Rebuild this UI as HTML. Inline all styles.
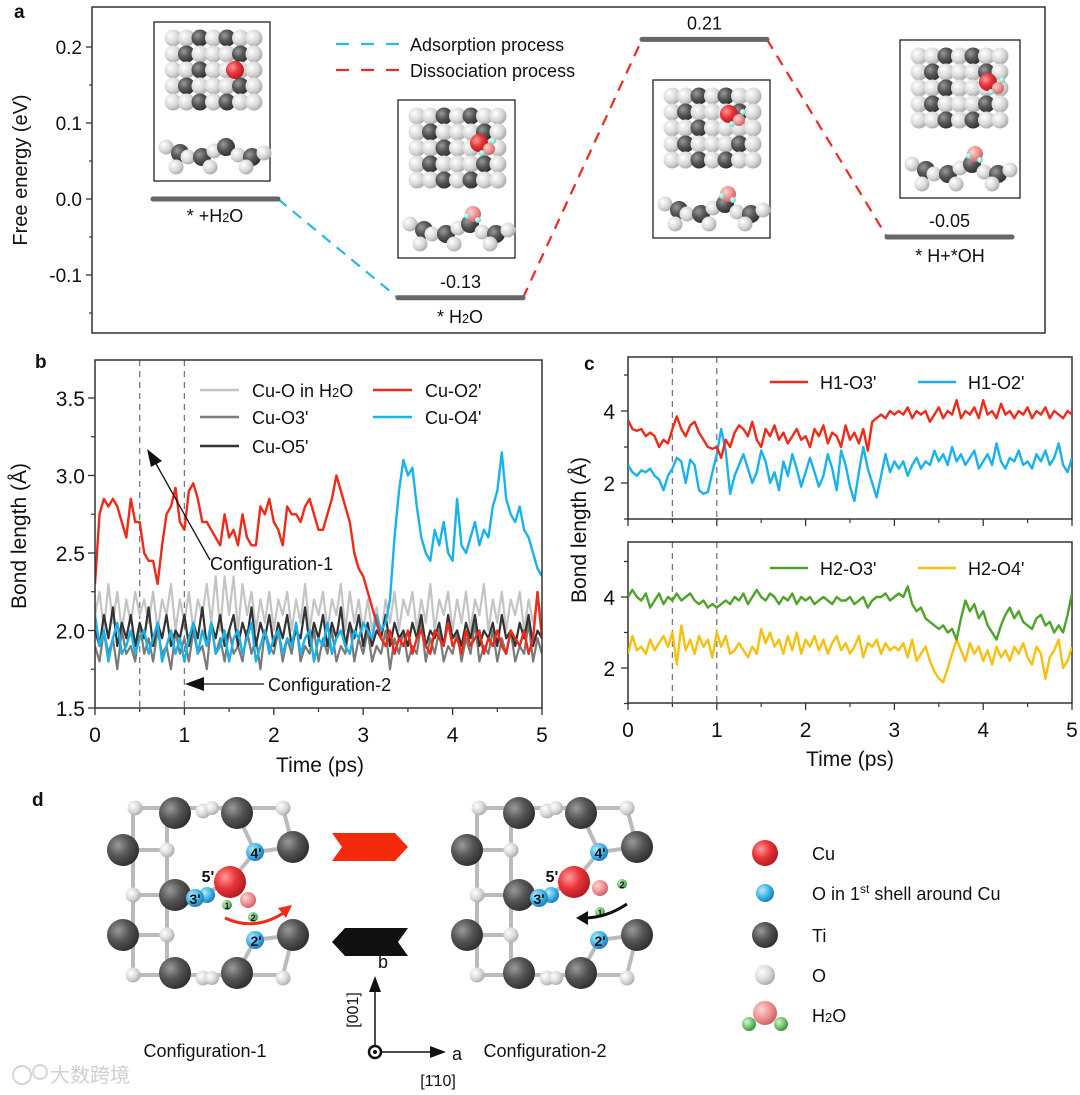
<!DOCTYPE html>
<html><head><meta charset="utf-8"><style>
html,body{margin:0;padding:0;background:#fff;}
svg{display:block;font-family:"Liberation Sans","Noto Sans CJK SC",sans-serif;}
</style></head><body>
<svg id="fig" width="1080" height="1095" viewBox="0 0 1080 1095" xmlns="http://www.w3.org/2000/svg">
<defs>
<radialGradient id="gD" cx="35%" cy="35%" r="70%"><stop offset="0" stop-color="#9a9a9a"/><stop offset="0.5" stop-color="#555"/><stop offset="1" stop-color="#2e2e2e"/></radialGradient>
<radialGradient id="gL" cx="35%" cy="35%" r="70%"><stop offset="0" stop-color="#fff"/><stop offset="0.6" stop-color="#d8d8d8"/><stop offset="1" stop-color="#a8a8a8"/></radialGradient>
<radialGradient id="gR" cx="35%" cy="35%" r="70%"><stop offset="0" stop-color="#ff9a9a"/><stop offset="0.5" stop-color="#e8353a"/><stop offset="1" stop-color="#b01a1e"/></radialGradient>
<radialGradient id="gP" cx="35%" cy="35%" r="70%"><stop offset="0" stop-color="#ffd6d6"/><stop offset="0.6" stop-color="#f08a8a"/><stop offset="1" stop-color="#c86060"/></radialGradient>
<radialGradient id="gB" cx="35%" cy="35%" r="70%"><stop offset="0" stop-color="#b8ecff"/><stop offset="0.6" stop-color="#3ab0e6"/><stop offset="1" stop-color="#1a78b0"/></radialGradient>
<radialGradient id="gG" cx="35%" cy="35%" r="70%"><stop offset="0" stop-color="#d6f5d0"/><stop offset="0.6" stop-color="#6cc070"/><stop offset="1" stop-color="#3c8a40"/></radialGradient>
<radialGradient id="gC" cx="35%" cy="35%" r="70%"><stop offset="0" stop-color="#e6fffa"/><stop offset="1" stop-color="#60d0c0"/></radialGradient>
<clipPath id="clipB"><rect x="95" y="360" width="447" height="348"/></clipPath>
<clipPath id="clipCT"><rect x="628" y="357" width="444" height="162"/></clipPath>
<clipPath id="clipCB"><rect x="628" y="542" width="444" height="161"/></clipPath>
</defs>
<g id="root"></g>
</svg>
<script>
// ---------- Panel a data ----------
const aStates = ["* +H2O", "* H2O", "TS", "* H+*OH"];
const aEnergies = [0, -0.13, 0.21, -0.05];
const aValueLabels = ["", "-0.13", "0.21", "-0.05"];
const aTicks = [0.2, 0.1, 0.0, -0.1];
const aTickLabels = ["0.2", "0.1", "0.0", "-0.1"];

// ---------- Panel b data (t = 0..5 ps, step 0.05) ----------
const bTimeStep = 0.05;
const bCuOH2O = [2.1,2.25,2.0,2.3,2.05,2.25,2.0,2.2,2.05,2.25,2.1, 2.2,2.05,2.25,2.0,2.2,2.1,2.3,2.0,2.2,2.05, 2.25,2.0,2.2,2.1,2.3,2.05,2.35,2.0,2.35,2.1, 2.35,2.0,2.3,2.1,2.25,2.0,2.2,2.05,2.25,2.0, 2.2,2.1,2.25,2.0,2.2,2.05,2.3,2.0,2.2,2.1, 2.25,2.0,2.2,2.1,2.3,2.0,2.25,2.05,2.2,2.0, 2.2,2.0,2.15,1.95,2.2,2.05,2.25,2.0,2.2,2.1, 2.25,2.0,2.2,2.05,2.3,2.0,2.2,2.1,2.25,2.0, 2.2,2.05,2.25,2.0,2.2,2.1,2.3,2.0,2.2,2.05, 2.25,2.0,2.2,2.1,2.25,2.0,2.2,2.05,2.2,2.1];
const bCuO3 = [1.9,1.8,2.0,1.85,1.95,1.75,2.0,1.85,1.9,1.8,2.05, 1.85,1.95,1.8,2.0,1.85,1.9,1.75,2.0,1.85,1.95, 1.8,2.0,1.85,1.9,1.75,2.05,1.85,1.95,1.8,2.0, 1.85,1.9,1.8,2.0,1.85,1.95,1.75,2.0,1.9,1.85, 2.0,1.8,1.95,1.85,2.05,1.8,1.9,1.85,2.0,1.8, 1.95,1.85,2.0,1.8,1.9,1.85,2.05,1.8,1.95,1.85, 2.0,1.8,1.9,1.85,2.0,1.75,1.95,1.85,2.0,1.8, 1.9,1.85,2.05,1.8,1.95,1.85,2.0,1.8,1.9,1.85, 2.0,1.8,1.95,1.85,2.05,1.8,1.9,1.85,2.0,1.8, 1.95,1.85,2.0,1.8,1.9,1.85,2.05,1.8,1.95,1.85];
const bCuO5 = [2.0,1.9,2.1,1.95,2.15,1.9,2.05,1.95,2.1,1.9,2.05, 1.95,2.15,1.9,2.05,1.95,2.1,1.9,2.0,1.95,2.1, 1.9,2.05,1.95,2.15,1.9,2.05,1.95,2.1,1.9,2.0, 2.1,1.9,2.05,1.95,2.15,1.9,2.05,1.95,2.1,1.9, 2.05,1.95,2.1,1.9,2.0,1.95,2.15,1.9,2.05,1.95, 2.1,1.9,2.05,1.95,2.15,1.9,2.05,1.95,2.1,1.9, 2.05,1.9,2.0,1.95,2.1,1.9,2.05,1.95,2.0,1.9, 2.05,1.95,2.1,1.9,2.0,1.95,2.05,1.9,2.1,1.95, 2.0,1.9,2.05,1.95,2.1,1.9,2.0,1.95,2.05,1.9, 2.1,1.95,2.0,1.9,2.05,1.95,2.1,1.9,2.0,1.95];
const bCuO4 = [2.1,1.9,2.0,1.8,1.95,2.05,1.85,1.9,2.0,1.85,1.95, 2.0,1.85,1.95,2.05,1.8,1.9,2.0,1.85,1.95,1.8, 1.95,2.05,1.85,2.0,1.9,2.05,1.85,1.9,2.0,1.8, 1.95,2.0,1.85,1.95,2.05,1.8,1.9,2.0,1.85,1.95, 2.0,1.85,1.95,1.9,2.05,1.85,1.95,2.0,1.8,1.95, 1.9,2.05,1.85,1.95,2.0,1.9,1.85,2.0,1.95,2.05, 2.0,1.95,2.1,2.0,2.05,2.2,2.6,2.9,3.1,3.0, 3.05,2.8,2.6,2.5,2.45,2.65,2.55,2.7,2.5,2.45, 2.85,2.55,2.5,2.6,2.7,2.55,2.65,2.6,2.8,2.9, 3.15,2.85,2.75,2.7,2.8,2.65,2.6,2.5,2.4,2.35];
const bCuO2 = [2.3,2.75,2.85,2.8,2.85,2.8,2.7,2.6,2.85,2.7,2.7, 2.5,2.45,2.45,2.3,2.55,2.75,2.8,2.92,2.7,2.65, 2.9,2.95,2.85,2.7,2.7,2.65,2.6,2.55,2.75,2.6, 2.65,2.55,2.75,2.6,2.55,2.55,2.8,2.75,2.85,2.7, 2.65,2.55,2.8,2.75,2.75,2.7,2.8,2.85,2.75,2.65, 2.65,2.75,2.85,3.0,2.9,2.8,2.7,2.5,2.4,2.35, 2.25,2.15,2.05,1.95,1.9,2.0,1.85,1.95,1.9,2.0, 1.85,1.95,2.0,1.9,1.85,2.0,1.95,1.9,2.05,1.9, 1.95,1.85,2.0,1.9,1.95,2.0,1.85,1.95,1.9,2.0, 1.9,1.85,2.0,1.95,1.9,2.0,1.85,1.95,2.25,1.95];
const bYTicks = [1.5, 2.0, 2.5, 3.0, 3.5];
const bYTickLabels = ["1.5", "2.0", "2.5", "3.0", "3.5"];
const xTicks = [0, 1, 2, 3, 4, 5];
const xTickLabels = ["0", "1", "2", "3", "4", "5"];

// ---------- Panel c data ----------
const cH1O3 = [3.75,3.5,3.45,3.5,3.3,3.4,3.3,3.0,3.2,3.1,3.5, 3.85,3.5,3.3,3.6,3.7,3.4,3.2,3.0,2.95,3.0, 2.7,3.2,3.0,3.4,3.6,3.5,3.3,3.7,3.2,3.0, 3.5,3.3,3.6,3.2,3.4,3.1,3.3,3.5,3.2,3.3, 3.0,3.5,3.3,3.6,3.1,3.4,3.3,3.0,3.6,3.2, 3.4,3.1,3.5,2.9,3.7,3.8,3.9,3.8,4.0,3.9, 4.0,3.9,4.1,3.8,4.0,3.9,4.0,3.7,3.9,4.1, 3.8,4.0,3.9,4.3,3.8,4.0,3.9,4.1,3.8,4.3, 3.9,4.0,3.8,4.2,3.9,4.0,3.8,4.0,3.9,4.1, 3.8,4.0,3.9,4.1,3.8,4.0,3.9,3.8,4.0,3.9];
const cH1O2 = [2.5,2.3,2.2,2.35,2.3,2.4,2.2,2.1,1.8,2.2,2.4, 2.7,2.6,2.0,2.65,2.5,1.8,1.7,1.75,2.3,2.8, 3.5,2.9,1.7,2.2,2.5,2.8,2.4,2.0,2.3,2.9, 2.6,2.0,2.3,1.8,2.6,2.2,2.8,2.4,1.9,2.3, 2.7,2.3,1.9,2.2,2.8,2.4,1.8,2.9,2.5,1.9, 1.5,2.3,3.0,2.4,2.0,1.6,2.2,2.8,2.3,2.6, 2.4,2.6,2.2,2.5,2.7,2.4,2.6,2.5,2.9,2.6, 2.8,2.5,3.0,2.6,2.8,2.5,2.7,2.9,2.4,2.6, 2.8,2.5,3.1,2.6,2.4,2.7,2.6,2.9,2.5,2.6, 2.4,2.8,2.6,2.9,2.5,2.7,3.1,2.5,2.3,2.7];
const cH2O3 = [4.0,4.2,4.0,3.9,4.1,3.7,3.9,4.1,3.8,4.0,3.9, 4.1,3.9,4.0,4.1,3.9,3.8,3.9,3.7,3.8,3.7, 3.8,3.9,3.8,4.0,3.9,4.1,3.8,4.0,4.2,4.0, 3.9,4.1,4.0,3.8,4.0,3.9,4.1,3.8,4.0,3.9, 4.0,3.8,3.9,4.0,3.9,3.8,4.0,3.9,3.9,4.0, 3.8,3.9,4.0,3.7,3.9,4.0,4.0,4.1,3.9,4.0, 4.1,4.0,4.3,3.8,3.6,3.7,3.4,3.3,3.2,3.1, 3.2,3.0,3.1,2.8,3.4,3.9,3.6,3.8,3.4,3.6, 3.2,3.0,2.8,3.2,3.5,3.7,3.4,3.6,3.3,3.2, 3.1,3.4,3.5,3.2,3.3,3.0,3.2,3.0,3.5,4.1];
const cH2O4 = [2.4,2.9,2.5,2.6,2.4,2.8,2.5,2.7,2.9,2.6,3.0, 2.1,3.2,2.5,2.8,2.4,2.9,2.6,2.8,2.3,3.0, 2.6,2.9,2.4,2.5,2.7,2.5,2.3,2.6,2.4,3.1, 2.7,3.0,2.6,2.8,2.4,2.9,2.5,3.0,2.4,2.8, 2.6,2.9,2.5,2.8,2.4,2.7,2.9,2.5,2.7,2.4, 2.6,2.9,2.3,2.7,2.6,2.8,2.4,2.7,2.5,2.6, 2.5,2.7,2.3,2.8,2.2,2.4,2.6,2.2,1.9,1.7, 1.6,2.0,2.4,2.8,2.5,2.2,2.7,2.4,2.6,2.2, 2.5,2.1,2.6,2.3,2.5,2.2,2.6,2.4,2.7,2.3, 2.1,2.6,2.4,1.7,2.3,2.5,2.8,2.0,2.2,2.6];
const cYTicks = [2, 4];
const cYTickLabels = ["2", "4"];

const NS = "http://www.w3.org/2000/svg";
const root = document.getElementById("root");
function el(tag, attrs, parent) {
  const e = document.createElementNS(NS, tag);
  for (const k in attrs) e.setAttribute(k, attrs[k]);
  (parent || root).appendChild(e);
  return e;
}
function txt(str, x, y, size, parent, anchor, extra) {
  const t = el("text", Object.assign({x: x, y: y, "font-size": size, "text-anchor": anchor || "middle", fill: "#111"}, extra || {}), parent);
  t.textContent = str;
  return t;
}
function group(name) {
  const g = el("g", {});
  
  
  return g;
}
function ball(g, x, y, r, grad) { return el("circle", {cx: x, cy: y, r: r, fill: "url(#" + grad + ")"}, g); }

// ================= PANEL A =================
const ya = v => 199 - v * 760;
const gA = group("panel-a");
txt("a", 14, 18, 19, gA, "start", {"font-weight": "bold"});
el("rect", {x: 92, y: 7, width: 953, height: 326, fill: "none", stroke: "#333", "stroke-width": 1.5}, gA);
aTicks.forEach((v, i) => {
  el("line", {x1: 86, x2: 92, y1: ya(v), y2: ya(v), stroke: "#333", "stroke-width": 1.3}, gA);
  const t = txt(aTickLabels[i], 82, ya(v) + 7, 19, gA, "end");
  
  
});
[0.15, 0.05, -0.05, -0.15].forEach(v => el("line", {x1: 89, x2: 92, y1: ya(v), y2: ya(v), stroke: "#333", "stroke-width": 1.2}, gA));
const yta = txt("Free energy (eV)", 0, 0, 20, gA, "middle", {transform: "translate(27,170) rotate(-90)"});

const levelX = [[153, 278], [398, 523], [642, 767], [887, 1012]];
const connColors = ["#29b6e8", "#ee2a24", "#ee2a24"];
for (let i = 0; i < 3; i++) {
  const c = el("line", {x1: levelX[i][1], y1: ya(aEnergies[i]), x2: levelX[i + 1][0], y2: ya(aEnergies[i + 1]), stroke: connColors[i], "stroke-width": 2.2, "stroke-dasharray": "11,8"}, gA);
  
}
aEnergies.forEach((v, i) => {
  const l = el("line", {x1: levelX[i][0], x2: levelX[i][1], y1: ya(v), y2: ya(v), stroke: "#666", "stroke-width": 5, "stroke-linecap": "round"}, gA);
  
  const cx = (levelX[i][0] + levelX[i][1]) / 2;
  if (aValueLabels[i]) txt(aValueLabels[i], cx, ya(v) - 10, 18, gA);
});
function sub(t, x, y, size, parts) {
  const te = el("text", {x: x, y: y, "font-size": size, "text-anchor": "middle", fill: "#111"}, gA);
  parts.forEach(p => { const s = el("tspan", p[1] ? {"font-size": size * 0.7} : {}, te); s.textContent = p[0]; });
  return te;
}
sub("", 215, 222, 18, [["* +H"], ["2", 1], ["O"]]);
sub("", 460, 323, 18, [["* H"], ["2", 1], ["O"]]);
txt("* H+*OH", 950, 262, 18, gA);
el("line", {x1: 336, x2: 400, y1: 44, y2: 44, stroke: "#29b6e8", "stroke-width": 2.2, "stroke-dasharray": "13,12"}, gA);
el("line", {x1: 336, x2: 400, y1: 70, y2: 70, stroke: "#ee2a24", "stroke-width": 2.2, "stroke-dasharray": "13,12"}, gA);
txt("Adsorption process", 410, 51, 18, gA, "start");
txt("Dissociation process", 410, 77, 18, gA, "start");
const insetBoxes = [[154, 22, 116, 159], [398, 100, 117, 158], [653, 80, 117, 158], [900, 40, 120, 158]];
const rowPats = ["LLDLDLL", "LDLLLDL", "LLDLLLL", "LDLLLDL", "LLDLDLL"];
insetBoxes.forEach((b, k) => {
  const g = el("g", {}, gA);
  
  el("rect", {x: b[0], y: b[1], width: b[2], height: b[3], fill: "#fff", stroke: "#222", "stroke-width": 1.3}, g);
  const x0 = b[0] + 16, y0 = b[1] + 16;
  for (let r = 0; r < 5; r++) for (let c = 0; c < 7; c++) {
    const ch = rowPats[r][c];
    ball(g, x0 + c * 13.5 + 3, y0 + r * 16, 8.5, ch === "D" ? "gD" : "gL");
  }
  const ax = [x0 + 65, x0 + 65, x0 + 60, x0 + 72][k], ay = [y0 + 32, y0 + 27, y0 + 18, y0 + 26][k];
  ball(g, ax, ay, 9, "gR");
  if (k > 0) { ball(g, ax + 10, ay + 6, 6, "gP"); ball(g, ax + 3, ay + 10, 3, "gC"); ball(g, ax + 14, ay - 2, 3, "gC"); }
  const sy = b[1] + b[3] - 30;
  const side = [[0, -4, "L"], [14, 2, "D"], [22, 6, "L"], [36, 6, "D"], [48, 0, "L"], [60, -4, "D"], [72, 4, "L"], [86, 6, "D"], [98, 2, "L"], [10, 16, "L"], [44, 16, "L"], [80, 16, "L"]];
  side.forEach(s => ball(g, b[0] + 12 + s[0], sy + s[1], s[2] === "D" ? 9 : 7.5, s[2] === "D" ? "gD" : "gL"));
  if (k > 0) { ball(g, b[0] + 75, sy - 14, 8, "gP"); ball(g, b[0] + 69, sy - 12, 3, "gC"); ball(g, b[0] + 80, sy - 8, 3, "gC"); }
});

function series(g, data, xs, ys, color, w, clip, name) {
  let d = "";
  data.forEach((v, i) => { d += (i ? "L" : "M") + xs(i * bTimeStep).toFixed(1) + "," + ys(v).toFixed(1); });
  const p = el("path", {d: d, fill: "none", stroke: color, "stroke-width": w, "stroke-linejoin": "round", "clip-path": "url(#" + clip + ")"}, g);
  
  
  return p;
}

// ================= PANEL B =================
const xb = t => 95 + t * 89.4;
const yb = v => 708 - (v - 1.5) * 155;
const gB = group("panel-b");
txt("b", 35, 368, 19, gB, "start", {"font-weight": "bold"});
[0.5, 1].forEach(t => el("line", {x1: xb(t), x2: xb(t), y1: 360, y2: 708, stroke: "#777", "stroke-width": 1.3, "stroke-dasharray": "6,5"}, gB));
series(gB, bCuOH2O, xb, yb, "#c4c4c4", 2.2, "clipB", "line-cu-o-in-h2o");
series(gB, bCuO3, xb, yb, "#7a7a7a", 2.2, "clipB", "line-cu-o3");
series(gB, bCuO5, xb, yb, "#333", 2.2, "clipB", "line-cu-o5");
series(gB, bCuO4, xb, yb, "#1ab2ea", 2.4, "clipB", "line-cu-o4");
series(gB, bCuO2, xb, yb, "#ee2a18", 2.4, "clipB", "line-cu-o2");
el("rect", {x: 95, y: 360, width: 447, height: 348, fill: "none", stroke: "#333", "stroke-width": 1.5}, gB);
bYTicks.forEach((v, i) => {
  el("line", {x1: 88, x2: 95, y1: yb(v), y2: yb(v), stroke: "#333", "stroke-width": 1.3}, gB);
  if (i < bYTicks.length - 1) el("line", {x1: 91, x2: 95, y1: yb(v + 0.25), y2: yb(v + 0.25), stroke: "#333", "stroke-width": 1.2}, gB);
  txt(bYTickLabels[i], 85, yb(v) + 8, 21, gB, "end");
});
xTicks.forEach((t, i) => {
  el("line", {x1: xb(t), x2: xb(t), y1: 708, y2: 715, stroke: "#333", "stroke-width": 1.3}, gB);
  if (i < 5) el("line", {x1: xb(t + 0.5), x2: xb(t + 0.5), y1: 708, y2: 712, stroke: "#333", "stroke-width": 1.2}, gB);
  txt(xTickLabels[i], xb(t), 742, 21, gB);
});
txt("Time (ps)", 320, 772, 21, gB);
txt("Bond length (Å)", 0, 0, 21, gB, "middle", {transform: "translate(26,536) rotate(-90)"});
const bLeg = [["Cu-O in H", "#c4c4c4", 200, 390, true], ["Cu-O3'", "#7a7a7a", 200, 417], ["Cu-O5'", "#333", 200, 446], ["Cu-O2'", "#ee2a18", 373, 390], ["Cu-O4'", "#1ab2ea", 373, 417]];
bLeg.forEach(l => {
  el("line", {x1: l[2], x2: l[2] + 39, y1: l[3], y2: l[3], stroke: l[1], "stroke-width": 2.4}, gB);
  const t = el("text", {x: l[2] + 52, y: l[3] + 7, "font-size": 18, fill: "#111"}, gB);
  
  const s = el("tspan", {}, t); s.textContent = l[0];
  if (l[4]) { const a = el("tspan", {"font-size": 13}, t); a.textContent = "2"; const b2 = el("tspan", {}, t); b2.textContent = "O"; }
});
el("line", {x1: 210, y1: 560, x2: 155, y2: 462, stroke: "#111", "stroke-width": 1.3}, gB);
el("polygon", {points: "147,449 162,461 151,467", fill: "#111"}, gB);
txt("Configuration-1", 210, 570, 18, gB, "start");
el("line", {x1: 264, y1: 684, x2: 200, y2: 684, stroke: "#111", "stroke-width": 1.3}, gB);
el("polygon", {points: "185,684 204,677 204,691", fill: "#111"}, gB);
txt("Configuration-2", 268, 691, 18, gB, "start");

// ================= PANEL C =================
const xc = t => 628 + t * 88.8;
const yct = v => 411 - (v - 4) * 36;
const ycb = v => 597 - (v - 4) * 35.5;
const gC = group("panel-c");
txt("c", 584, 370, 19, gC, "start", {"font-weight": "bold"});
function cFrame(top, bot, ys, clip) {
  [0.5, 1].forEach(t => el("line", {x1: xc(t), x2: xc(t), y1: top, y2: bot, stroke: "#777", "stroke-width": 1.3, "stroke-dasharray": "6,5"}, gC));
  el("rect", {x: 628, y: top, width: 444, height: bot - top, fill: "none", stroke: "#333", "stroke-width": 1.5}, gC);
  [1, 2, 3, 4, 5].forEach(v => el("line", {x1: cYTicks.includes(v) ? 621 : 624, x2: 628, y1: ys(v), y2: ys(v), stroke: "#333", "stroke-width": 1.3}, gC));
  cYTicks.forEach((v, i) => txt(cYTickLabels[i], 615, ys(v) + 8, 21, gC, "end"));
  xTicks.forEach((t, i) => {
    el("line", {x1: xc(t), x2: xc(t), y1: bot, y2: bot + 7, stroke: "#333", "stroke-width": 1.3}, gC);
    if (i < 5) el("line", {x1: xc(t + 0.5), x2: xc(t + 0.5), y1: bot, y2: bot + 4, stroke: "#333", "stroke-width": 1.2}, gC);
  });
}
cFrame(357, 519, yct, "clipCT");
series(gC, cH1O2, xc, yct, "#1ab2ea", 2.4, "clipCT", "line-h1-o2");
series(gC, cH1O3, xc, yct, "#ee2a18", 2.4, "clipCT", "line-h1-o3");
cFrame(542, 703, ycb, "clipCB");
series(gC, cH2O4, xc, ycb, "#f5c010", 2.4, "clipCB", "line-h2-o4");
series(gC, cH2O3, xc, ycb, "#4ea42a", 2.4, "clipCB", "line-h2-o3");
xTicks.forEach((t, i) => txt(xTickLabels[i], xc(t), 737, 21, gC));
txt("Time (ps)", 850, 766, 21, gC);
txt("Bond length (Å)", 0, 0, 21, gC, "middle", {transform: "translate(586,530) rotate(-90)"});
[["H1-O3'", "#ee2a18", 770, 382], ["H1-O2'", "#1ab2ea", 918, 382], ["H2-O3'", "#4ea42a", 770, 568], ["H2-O4'", "#f5c010", 918, 568]].forEach(l => {
  el("line", {x1: l[2], x2: l[2] + 38, y1: l[3], y2: l[3], stroke: l[1], "stroke-width": 2.4}, gC);
  txt(l[0], l[2] + 50, l[3] + 7, 18, gC, "start");
});

// ================= PANEL D =================
const gD = group("panel-d");
txt("d", 32, 806, 19, gD, "start", {"font-weight": "bold"});
function structure(ox, cfg) {
  const g = el("g", {transform: "translate(" + ox + ",0)"}, gD);
  
  const bonds = [[135,808,283,808],[133,808,133,973],[167,813,167,973],[123,850,167,850],[133,895,175,895],[123,935,167,935],[135,975,283,975],[283,808,293,847],[283,975,293,935],[255,852,293,847],[255,940,293,935],[255,852,237,813],[255,940,237,973],[195,898,230,882],[255,852,230,882]];
  bonds.forEach(b => el("line", {x1: b[0], y1: b[1], x2: b[2], y2: b[3], stroke: "#bbb", "stroke-width": 4}, g));
  [[175,813],[237,813],[123,850],[293,847],[175,895],[123,935],[293,935],[175,973],[237,973]].forEach(p => ball(g, p[0], p[1], 16, "gD"));
  [[135,808],[203,811],[283,808],[167,850],[133,895],[167,935],[133,975],[203,978],[283,978]].forEach(p => ball(g, p[0], p[1], 7.5, "gL"));
  ball(g, 212, 808, 7, "gL"); ball(g, 212, 978, 7, "gL");
  const lab = (s, x, y, sz) => txt(s, x, y, sz, g, "middle", {"font-weight": "bold"});
  ball(g, 255, 852, 9, "gB"); lab("4'", 256, 858, 14);
  ball(g, 255, 940, 9, "gB"); lab("2'", 256, 946, 14);
  ball(g, 207, 895, 8, "gB");
  ball(g, 195, 898, 9, "gB"); lab("3'", 195, 904, 14);
  ball(g, 230, 882, 16, "gR");
  lab("5'", 208, 882, 16);
  if (cfg === 1) {
    ball(g, 248, 900, 8, "gP");
    ball(g, 227, 905, 5, "gG"); lab("1", 227, 909, 9);
    ball(g, 253, 917, 5, "gG"); lab("2", 253, 921, 9);
    el("path", {d: "M225,918 Q255,932 285,912", fill: "none", stroke: "#ee2a18", "stroke-width": 3}, g);
    el("polygon", {points: "292,905 278,908 286,918", fill: "#ee2a18"}, g);
  } else {
    ball(g, 256, 888, 8, "gP");
    ball(g, 256, 912, 5, "gG"); lab("1", 256, 916, 9);
    ball(g, 278, 884, 5, "gG"); lab("2", 278, 888, 9);
    el("path", {d: "M283,904 Q262,918 240,918", fill: "none", stroke: "#111", "stroke-width": 3}, g);
    el("polygon", {points: "232,918 244,911 244,925", fill: "#111"}, g);
  }
}
structure(0, 1);
structure(344, 2);
txt("Configuration-1", 205, 1057, 18, gD);
txt("Configuration-2", 545, 1057, 18, gD);
const ra = el("polygon", {points: "332,833 395,833 408,847 395,861 332,861 342,847", fill: "#f52a0a"}, gD);

const la = el("polygon", {points: "408,928 345,928 332,942 345,956 408,956 398,942", fill: "#111"}, gD);

el("line", {x1: 375, y1: 1052, x2: 375, y2: 990, stroke: "#111", "stroke-width": 1.5}, gD);
el("polygon", {points: "375,976 369,992 381,992", fill: "#111"}, gD);
el("line", {x1: 375, y1: 1052, x2: 432, y2: 1052, stroke: "#111", "stroke-width": 1.5}, gD);
el("polygon", {points: "446,1052 430,1046 430,1058", fill: "#111"}, gD);
el("circle", {cx: 375, cy: 1052, r: 6, fill: "#fff", stroke: "#111", "stroke-width": 2.5}, gD);
el("circle", {cx: 375, cy: 1052, r: 2, fill: "#111"}, gD);
txt("b", 378, 968, 18, gD, "start");
txt("[001]", 0, 0, 16, gD, "middle", {transform: "translate(358,1010) rotate(-90)"});
txt("a", 452, 1060, 18, gD, "start");
txt("[1̄10]", 438, 1086, 16, gD);
const gL = el("g", {}, gD);

ball(gL, 765, 853, 13, "gR"); txt("Cu", 812, 860, 18, gL, "start");
ball(gL, 765, 893, 9, "gB");
const ot = el("text", {x: 812, y: 900, "font-size": 18, fill: "#111"}, gL);
ot.innerHTML = 'O  in 1<tspan font-size="12" dy="-7">st</tspan><tspan dy="7"> shell around Cu</tspan>';
ball(gL, 765, 935, 13, "gD"); txt("Ti", 812, 942, 18, gL, "start");
ball(gL, 765, 975, 10, "gL"); txt("O", 812, 982, 18, gL, "start");
ball(gL, 749, 1024, 7, "gG"); ball(gL, 781, 1024, 7, "gG"); ball(gL, 765, 1013, 12, "gP");
const ht = el("text", {x: 812, y: 1022, "font-size": 18, fill: "#111"}, gL);
ht.innerHTML = 'H<tspan font-size="13">2</tspan>O';
const wm = txt("大数跨境", 90, 1082, 20, gD, "middle", {fill: "#cfcfcf"});

el("circle", {cx: 22, cy: 1075, r: 9, fill: "none", stroke: "#d5d5d5", "stroke-width": 2}, gD);
el("circle", {cx: 40, cy: 1072, r: 7, fill: "none", stroke: "#d5d5d5", "stroke-width": 2}, gD);
</script>
</body></html>
